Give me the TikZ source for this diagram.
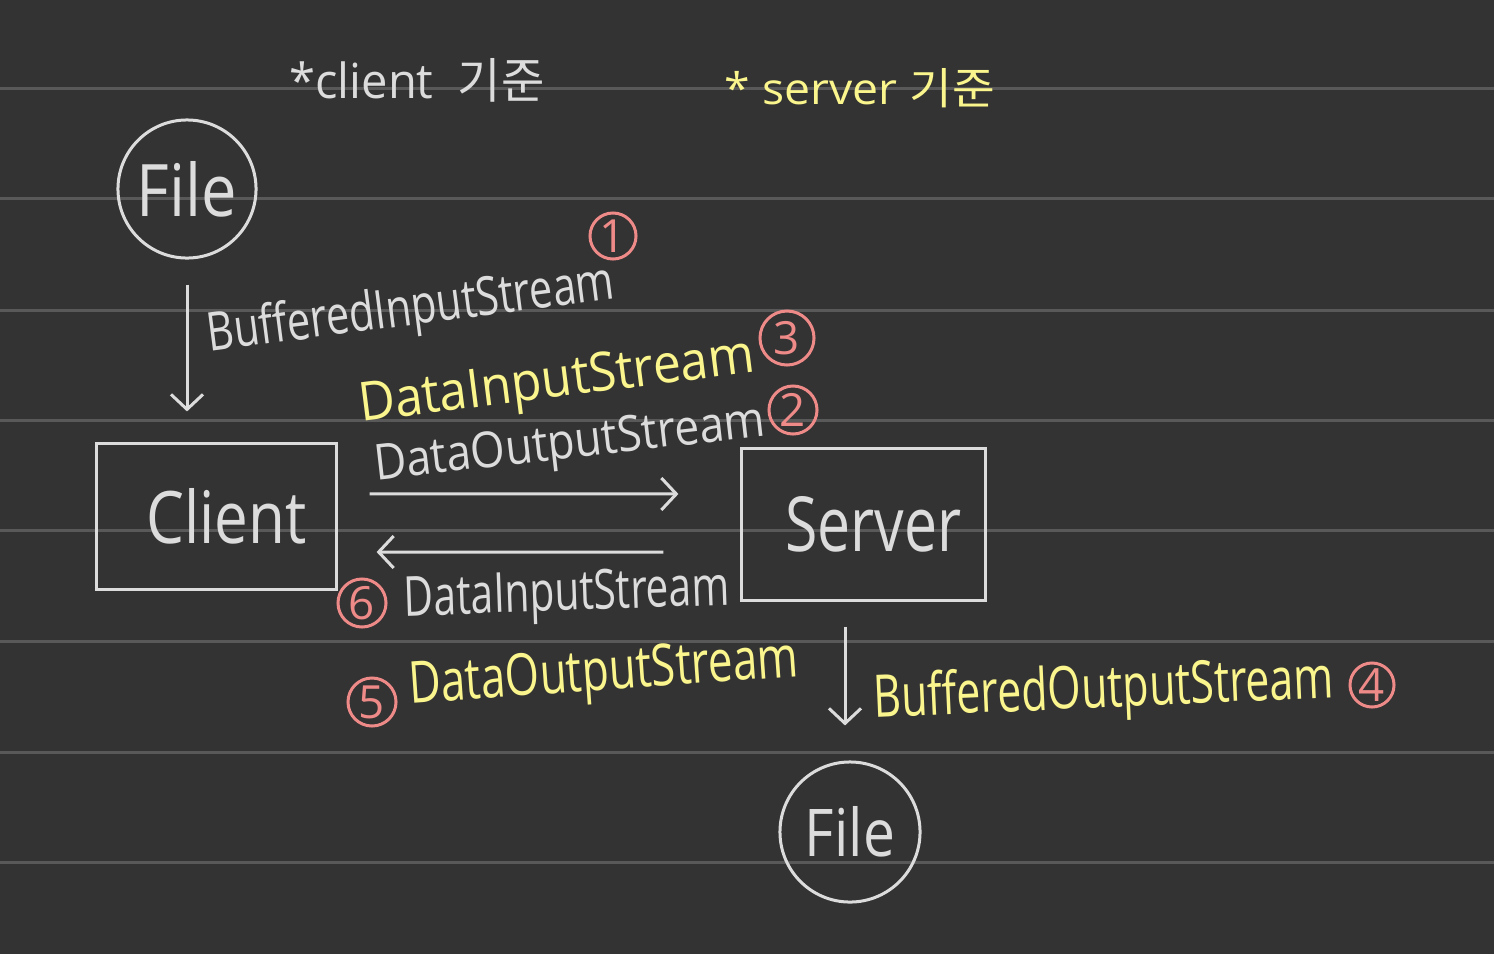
\documentclass[tikz,border=0pt]{standalone}
\usepackage{fontspec}
\setmainfont{Open Sans}
\newfontfamily\kr{Noto Sans CJK KR}
\usetikzlibrary{arrows.meta}
\definecolor{bg}{HTML}{333333}
\definecolor{rulec}{HTML}{595959}
\definecolor{wt}{HTML}{DCDCDC}
\definecolor{yl}{HTML}{FAF58C}
\definecolor{pk}{HTML}{EE8A88}
\newcommand{\hw}[3]{\resizebox{#1}{#2}{#3}}
\tikzset{
  pen/.style={line width=0.03cm},
  wtext/.style={inner sep=0pt, text=wt},
  ytext/.style={inner sep=0pt, text=yl},
  filec/.style={circle, draw=wt, pen, inner sep=0pt, minimum size=1.38cm, text=wt},
  boxn/.style={rectangle, draw=wt, pen, inner sep=0pt, text=wt},
  num/.style={circle, draw=pk, pen, inner sep=0pt, minimum size=0.46cm, text=pk, font=\fontsize{13}{13}\selectfont},
  arr/.style={draw=wt, pen, -{Straight Barb[length=0.15cm,width=0.32cm,line width=0.03cm]}}
}
\begin{document}
\begin{tikzpicture}[x=0.01cm,y=-0.01cm]
\fill[bg] (0,0) rectangle (1494,954);
\useasboundingbox (0,0) rectangle (1494,954);
\foreach \yy in {88,198,310,420,530,641,752,862}
  \draw[rulec, line width=0.03cm] (0,\yy) -- (1494,\yy);

% headers
\node[wtext] (hc) at (417,80) {\hw{2.55cm}{0.4cm}{*client \ {\kr 기준}}};
\node[ytext] (hs) at (860,88) {\hw{2.7cm}{0.36cm}{* server {\kr 기준}}};

% files
\node[filec] (file1) at (187,189) {\hw{1.0cm}{0.55cm}{File}};
\node[filec, minimum size=1.4cm] (file2) at (850,832) {\hw{0.9cm}{0.5cm}{File}};

% boxes
\node[boxn, minimum width=2.39cm, minimum height=1.45cm] (client) at (216.5,516.5) {\hskip0.2cm\hw{1.6cm}{0.55cm}{Client}};
\node[boxn, minimum width=2.43cm, minimum height=1.51cm] (server) at (863.5,524.5) {\hskip0.2cm\hw{1.76cm}{0.55cm}{Server}};

% arrows
\draw[arr, shorten <=0.25cm, shorten >=0.31cm] (file1.south) -- (file1.south |- client.north);
\draw[arr, shorten <=0.32cm, shorten >=0.62cm] ([yshift=0.225cm]client.east) -- ([yshift=0.305cm]server.west);
\draw[arr, shorten <=0.77cm, shorten >=0.39cm] ([yshift=-0.275cm]server.west) -- ([yshift=-0.355cm]client.east);
\draw[arr, shorten <=0.25cm, shorten >=0.35cm] ([xshift=-0.185cm]server.south) -- ([xshift=-0.185cm]server.south |- file2.north);

% labels
\node[wtext, rotate=7.4] (bis) at (411,311) {\hw{4.1cm}{0.41cm}{BufferedInputStream}};
\node[ytext, rotate=7.2] (dis1) at (557,384) {\hw{3.98cm}{0.39cm}{DataInputStream}};
\node[wtext, rotate=6.5] (dos1) at (570,446) {\hw{3.93cm}{0.36cm}{DataOutputStream}};
\node[wtext, rotate=2] (dis2) at (567,597) {\hw{3.25cm}{0.4cm}{DataInputStream}};
\node[ytext, rotate=4] (dos2) at (604,676) {\hw{3.9cm}{0.42cm}{DataOutputStream}};
\node[ytext, rotate=2.5] (bos) at (1104,692) {\hw{4.6cm}{0.45cm}{BufferedOutputStream}};

% numbers
\node[num] (n1) at (613,236) {1};
\node[num, minimum size=0.54cm] (n3) at (787,338) {3};
\node[num, minimum size=0.48cm] (n2) at (793,410) {2};
\node[num, minimum size=0.48cm] (n6) at (362,603) {6};
\node[num, minimum size=0.48cm] (n5) at (372,702) {5};
\node[num, minimum size=0.44cm] (n4) at (1372,685) {4};
\end{tikzpicture}
\end{document}
